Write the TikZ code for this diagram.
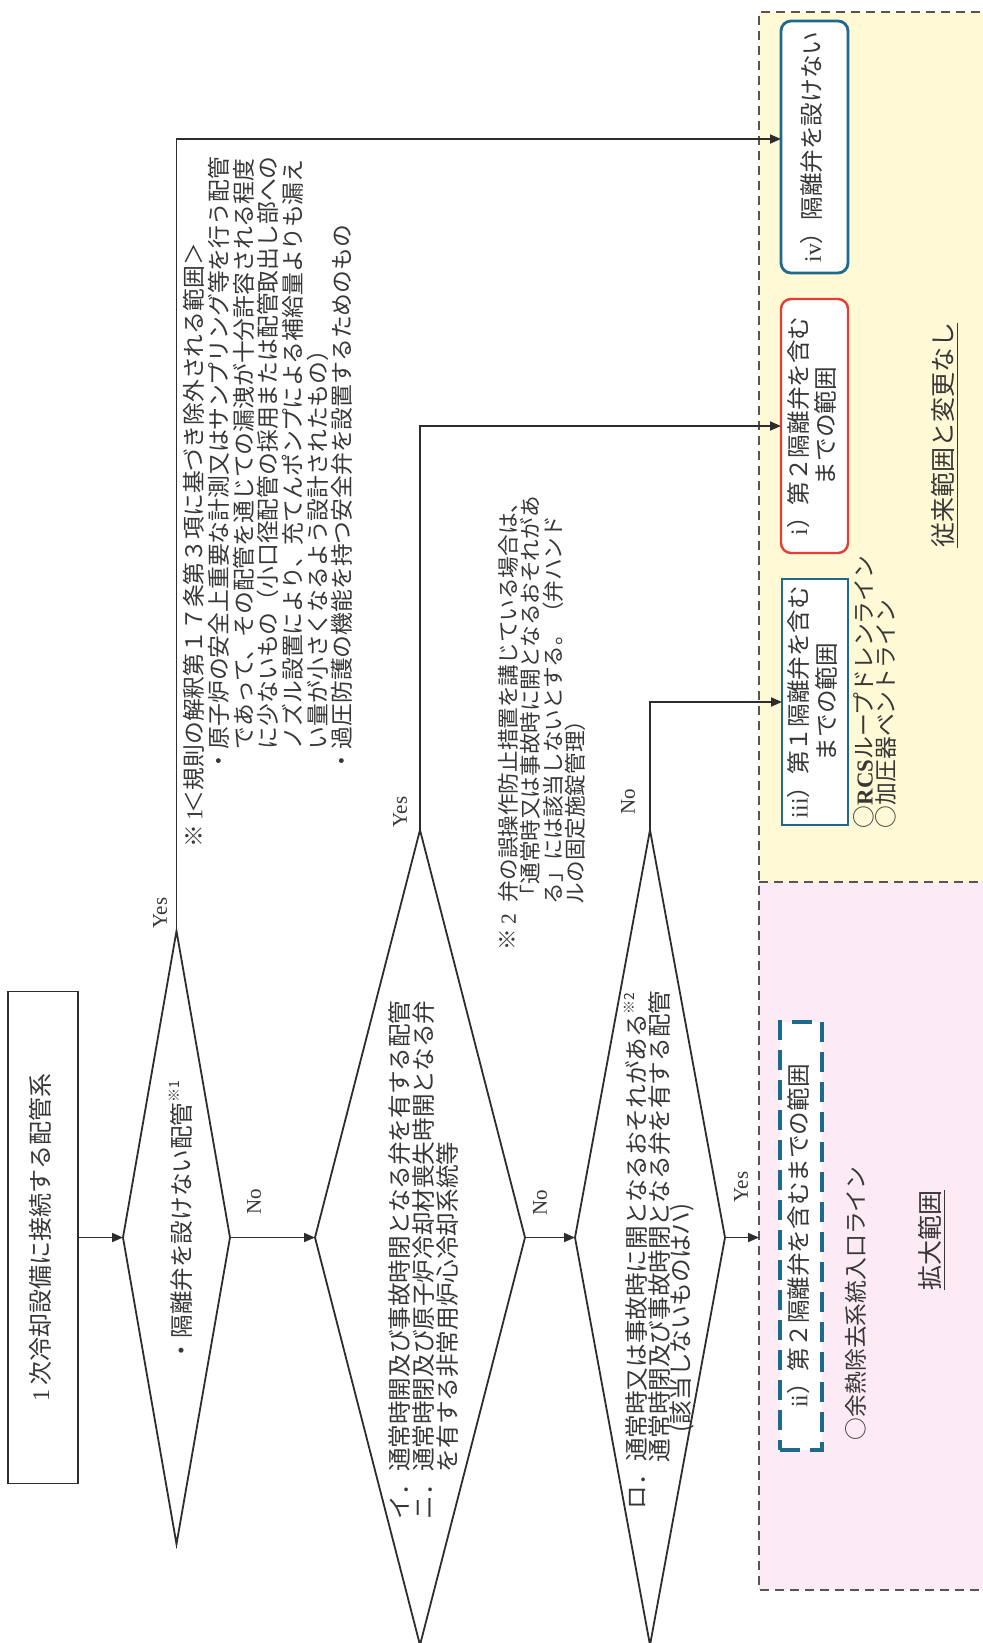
\documentclass[tikz,border=0pt]{standalone}
\usepackage{fontspec}
\setmainfont{Liberation Serif}
\newfontfamily\jpf{Noto Sans CJK JP}
\newfontfamily\latf{Liberation Serif}
\usetikzlibrary{arrows.meta,shapes.geometric,calc}
\definecolor{ink}{RGB}{45,45,45}
\definecolor{txt}{RGB}{55,55,55}
\definecolor{yelc}{RGB}{255,249,214}
\definecolor{pnkc}{RGB}{252,234,244}
\definecolor{tealc}{RGB}{30,105,140}
\definecolor{redc}{RGB}{228,62,52}
\definecolor{dgray}{RGB}{85,85,85}
\newcommand{\rotl}[1]{\rotatebox{90}{\begin{tabular}{@{}c@{}}#1\end{tabular}}}
\newcommand{\sups}[1]{\raisebox{0.45em}{\fontsize{7pt}{7pt}\selectfont #1}}
\begin{document}
\begin{tikzpicture}[x=0.5pt,y=-0.5pt,
  every node/.style={inner sep=0pt, outer sep=0pt, text=txt},
  jt/.style={font=\jpf\fontsize{11.8pt}{12.6pt}\selectfont, rotate=90, anchor=west},
  nt/.style={font=\jpf\fontsize{11.4pt}{12.4pt}\selectfont, rotate=90, anchor=west},
  mt/.style={font=\jpf\fontsize{10.8pt}{12pt}\selectfont, rotate=90, anchor=west},
  yn/.style={font=\latf\fontsize{10.5pt}{11pt}\selectfont, rotate=90},
  bx/.style={font=\jpf\fontsize{11.8pt}{12.6pt}\selectfont, fill=white},
  flow/.style={draw=ink, line width=0.9pt},
  arr/.style={flow, -{Triangle[length=5.5pt,width=4.5pt]}},
  dia/.style={diamond, draw=ink, line width=0.9pt},
  regdash/.style={draw=dgray, line width=1.1pt, dash pattern=on 4.5pt off 3pt},
  lab/.style={font=\jpf\fontsize{12.5pt}{13pt}\selectfont, rotate=90}
]
\useasboundingbox (0,0) rectangle (982,1643);
\fill[white] (0,0) rectangle (982,1643);
% regions
\fill[yelc] (759,12) rectangle (995,882);
\fill[pnkc] (759,882) rectangle (995,1590);
\draw[regdash] (995,12) -- (759,12) -- (759,1590) -- (995,1590);
\draw[regdash] (759,882) -- (995,882);
\coordinate (pinkedge) at (759,1237.5);

% start box
\node[draw=ink, line width=0.9pt, minimum width=35pt, minimum height=246pt,
      font=\jpf\fontsize{12pt}{13pt}\selectfont] (start) at (43,1237.5)
      {\rotl{{\latf 1}\,次冷却設備に接続する配管系}};

% diamonds
\node[dia, minimum width=53.5pt, minimum height=306.5pt] (d1) at (176.5,1237.5) {};
\node[dia, minimum width=105pt, minimum height=407.5pt] (d2) at (420,1237.5) {};
\node[dia, minimum width=75pt, minimum height=407.5pt] (d3) at (650,1237.5) {};

% result boxes
\node[bx, draw=tealc, line width=1.4pt, rounded corners=5pt, minimum width=33.5pt, minimum height=126pt] (ivbox) at (814.5,147) {\rotl{{\latf iv}）隔離弁を設けない}};
\node[bx, draw=redc, line width=1.2pt, rounded corners=5pt, minimum width=33.5pt, minimum height=127pt] (ibox) at (814.5,426) {\rotl{{\latf i}）第２隔離弁を含む\\までの範囲}};
\node[bx, draw=tealc, line width=1.4pt, minimum width=33pt, minimum height=123pt] (iiibox) at (815,702) {\rotl{{\latf iii}）第１隔離弁を含む\\までの範囲}};
\node[bx, draw=tealc, line width=2pt, dash pattern=on 10pt off 5pt, minimum width=21pt, minimum height=214pt] (iibox) at (801,1236) {\rotl{{\latf ii}）第２隔離弁を含むまでの範囲}};

% connectors
\draw[arr] (start.east) -- (d1.west);
\draw[arr] (d1.east) -- (d2.west);
\draw[arr] (d2.east) -- (d3.west);
\draw[arr] (d3.east) -- (pinkedge);
\draw[arr] (d1.north) |- ($(ivbox.west)+(0,-8)$);
\draw[arr] (d2.north) |- (ibox.west);
\draw[arr] (d3.north) |- (iiibox.west);

% yes / no labels
\node[yn] (yes1) at (160,913) {Yes};
\node[yn] (no1) at (254,1202) {No};
\node[yn] (yes2) at (400,812) {Yes};
\node[yn] (no2) at (540,1203) {No};
\node[yn] (no3) at (628,802) {No};
\node[yn] (yes3) at (741,1187) {Yes};

% diamond texts
\node[jt] (d1t) at (181,1362) {・隔離弁を設けない配管\sups{※1}};
\node[jt] (d2a) at (400,1519) {イ．通常時開及び事故時閉となる弁を有する配管};
\node[jt] (d2b) at (424,1519) {ニ．通常時閉及び原子炉冷却材喪失時開となる弁};
\node[jt] (d2c) at (448,1472) {を有する非常用炉心冷却系統等};
\node[jt] (d3a) at (636,1509) {ロ．通常時又は事故時に開となるおそれがある\sups{※2}};
\node[jt] (d3b) at (659,1462) {通常時閉及び事故時閉となる弁を有する配管};
\node[jt] (d3c) at (682,1432) {(該当しないものはハ)};

% note 1
\node[nt] (n1a) at (194,847) {※\,{\latf 1}};
\node[nt] (n1b) at (194,813) {＜規則の解釈第１７条第３項に基づき除外される範囲＞};
\node[nt] (n1c) at (219,772) {・原子炉の安全上重要な計測又はサンプリング等を行う配管};
\node[nt] (n1d) at (244,749) {であって、その配管を通じての漏洩が十分許容される程度};
\node[nt] (n1e) at (268,749) {に少ないもの（小口径配管の採用または配管取出し部への};
\node[nt] (n1f) at (293,749) {ノズル設置により、充てんポンプによる補給量よりも漏え};
\node[nt] (n1g) at (318,749) {い量が小さくなるよう設計されたもの）};
\node[nt] (n1h) at (342,772) {・過圧防護の機能を持つ安全弁を設置するためのもの};

% note 2
\node[mt] (n2a) at (508,950) {※\,{\latf 2}};
\node[mt] (n2b) at (508,902) {弁の誤操作防止措置を講じている場合は、};
\node[mt] (n2c) at (530,906) {「通常時又は事故時に開となるおそれがあ};
\node[mt] (n2d) at (553,904) {る」には該当しないとする。（弁ハンド};
\node[mt] (n2e) at (575,904) {ルの固定施錠管理）};

% region texts
\node[nt] (rcs1) at (864,828) {○{\latf\bfseries RCS}ループドレンライン};
\node[nt] (rcs2) at (886,828) {○加圧器ベントライン};
\node[nt] (rhr) at (856,1440) {○余熱除去系統入口ライン};
\node[lab] (old) at (945,435) {\underline{従来範囲と変更なし}};
\node[lab] (new) at (932,1240) {\underline{拡大範囲}};
\end{tikzpicture}
\end{document}
